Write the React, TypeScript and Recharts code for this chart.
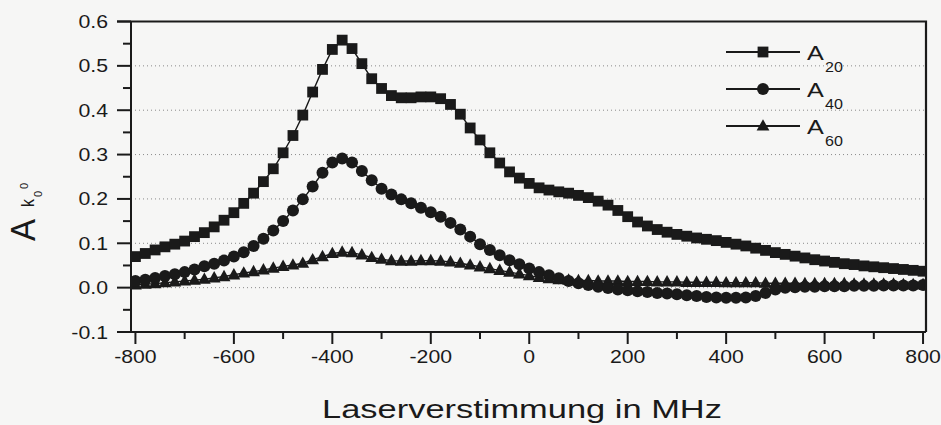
import React from 'react';
import { LineChart, Line, XAxis, YAxis, ReferenceLine, Legend } from 'recharts';

// ---- data ----
const detuning = [
  -800, -780, -760, -740, -720, -700, -680, -660, -640, -620,
  -600, -580, -560, -540, -520, -500, -480, -460, -440, -420,
  -400, -380, -360, -340, -320, -300, -280, -260, -240, -220,
  -200, -180, -160, -140, -120, -100, -80, -60, -40, -20,
  0, 20, 40, 60, 80, 100, 120, 140, 160, 180,
  200, 220, 240, 260, 280, 300, 320, 340, 360, 380,
  400, 420, 440, 460, 480, 500, 520, 540, 560, 580,
  600, 620, 640, 660, 680, 700, 720, 740, 760, 780, 800,
];

const a20 = [
  0.070, 0.077, 0.085, 0.092, 0.098, 0.105, 0.115, 0.124, 0.137, 0.152,
  0.169, 0.190, 0.213, 0.239, 0.268, 0.304, 0.343, 0.389, 0.441, 0.492,
  0.537, 0.558, 0.539, 0.505, 0.471, 0.449, 0.433, 0.428, 0.428, 0.430,
  0.430, 0.426, 0.413, 0.391, 0.360, 0.333, 0.304, 0.281, 0.261, 0.247,
  0.235, 0.225, 0.220, 0.216, 0.213, 0.208, 0.203, 0.195, 0.186, 0.174,
  0.160, 0.148, 0.139, 0.131, 0.125, 0.120, 0.116, 0.112, 0.109, 0.106,
  0.102, 0.098, 0.094, 0.089, 0.084, 0.079, 0.075, 0.071, 0.067, 0.063,
  0.060, 0.057, 0.054, 0.052, 0.049, 0.047, 0.045, 0.043, 0.041, 0.039, 0.037,
];

const a40 = [
  0.015, 0.018, 0.022, 0.026, 0.030, 0.035, 0.041, 0.048, 0.054, 0.061,
  0.070, 0.080, 0.094, 0.110, 0.129, 0.150, 0.174, 0.199, 0.228, 0.259,
  0.282, 0.291, 0.282, 0.263, 0.242, 0.223, 0.210, 0.199, 0.190, 0.180,
  0.170, 0.160, 0.146, 0.131, 0.115, 0.098, 0.085, 0.073, 0.062, 0.053,
  0.043, 0.035, 0.028, 0.021, 0.015, 0.010, 0.006, 0.002, -0.001, -0.004,
  -0.006, -0.008, -0.010, -0.012, -0.013, -0.015, -0.017, -0.019, -0.021, -0.022,
  -0.023, -0.023, -0.022, -0.019, -0.012, -0.004, 0.000, 0.001, 0.002, 0.002,
  0.003, 0.003, 0.003, 0.004, 0.004, 0.004, 0.005, 0.005, 0.005, 0.005, 0.006,
];

const a60 = [
  0.006, 0.008, 0.009, 0.011, 0.013, 0.015, 0.017, 0.019, 0.022, 0.025,
  0.029, 0.033, 0.036, 0.040, 0.044, 0.048, 0.051, 0.055, 0.063, 0.070,
  0.077, 0.080, 0.079, 0.074, 0.068, 0.064, 0.061, 0.060, 0.060, 0.061,
  0.061, 0.060, 0.058, 0.055, 0.051, 0.047, 0.043, 0.039, 0.035, 0.031,
  0.027, 0.023, 0.020, 0.018, 0.017, 0.016, 0.016, 0.015, 0.015, 0.015,
  0.014, 0.014, 0.014, 0.013, 0.013, 0.013, 0.012, 0.012, 0.012, 0.012,
  0.011, 0.011, 0.011, 0.011, 0.010, 0.010, 0.010, 0.010, 0.009, 0.009,
  0.009, 0.009, 0.009, 0.008, 0.008, 0.008, 0.008, 0.008, 0.007, 0.007, 0.007,
];

const xTicks = [-800, -700, -600, -500, -400, -300, -200, -100, 0, 100, 200, 300, 400, 500, 600, 700, 800];
const yTicks = [-0.1, -0.05, 0, 0.05, 0.1, 0.15, 0.2, 0.25, 0.3, 0.35, 0.4, 0.45, 0.5, 0.55, 0.6];
const gridValues = [0, 0.1, 0.2, 0.3, 0.4, 0.5];
const xDomain = [-809, 806];
const yDomain = [-0.1, 0.6];

const seriesKeys = ['a20', 'a40', 'a60'];
const seriesSubs = ['20', '40', '60'];
const seriesShapes = ['square', 'circle', 'triangle'];

const xTitle = 'Laserverstimmung in MHz';

const data = detuning.map((x, i) => ({ x, a20: a20[i], a40: a40[i], a60: a60[i] }));

// ---- layout & styling ----
const CHART_W = 941;
const CHART_H = 425;
const M_TOP = 21.5;
const M_RIGHT = 15;
const Y_AXIS_W = 131;
const X_AXIS_H = 93;
const PLOT_LEFT = Y_AXIS_W;
const PLOT_RIGHT = CHART_W - M_RIGHT;
const PLOT_TOP = M_TOP;
const PLOT_BOTTOM = CHART_H - X_AXIS_H;

const INK = '#1a1a1a';
const BG = '#f6f6f5';
const FONT = '"Liberation Sans", Arial, Helvetica, sans-serif';

function Marker({ shape, cx, cy }: { shape: string; cx: number; cy: number }) {
  if (shape === 'square') {
    return <rect x={cx - 5.4} y={cy - 5.4} width={10.8} height={10.8} fill={INK} />;
  }
  if (shape === 'circle') {
    return <circle cx={cx} cy={cy} r={6} fill={INK} />;
  }
  return (
    <polygon
      points={`${cx},${cy - 6.8} ${cx - 6.4},${cy + 4.6} ${cx + 6.4},${cy + 4.6}`}
      fill={INK}
    />
  );
}

const makeDot = (shape: string) => (p: any) => {
  const { cx, cy, index } = p;
  if (cx == null || cy == null || isNaN(cx) || isNaN(cy)) return <g key={`e-${index}`} />;
  return (
    <g key={`${shape}-${index}`}>
      <Marker shape={shape} cx={cx} cy={cy} />
    </g>
  );
};

const XTick = (props: any) => {
  const { x, y, payload } = props;
  const v = payload.value;
  const major = Math.round(v) % 200 === 0;
  return (
    <g>
      <line x1={x} x2={x} y1={y} y2={y + (major ? 12 : 7)} stroke={INK} strokeWidth={2} />
      {major && (
        <text
          transform={`translate(${x},${y + 31}) scale(1.18,1)`}
          textAnchor="middle"
          fontSize={18}
          fill={INK}
          fontFamily={FONT}
        >
          {String(v)}
        </text>
      )}
    </g>
  );
};

const YTick = (props: any) => {
  const { x, y, payload } = props;
  const v = payload.value;
  const major = Math.round(v * 20) % 2 === 0;
  return (
    <g>
      <line x1={x - (major ? 14 : 8)} x2={x} y1={y} y2={y} stroke={INK} strokeWidth={2} />
      {major && (
        <text
          transform={`translate(${x - 23},${y + 6.5}) scale(1.15,1)`}
          textAnchor="end"
          fontSize={18.5}
          fill={INK}
          fontFamily={FONT}
        >
          {v.toFixed(1)}
        </text>
      )}
    </g>
  );
};

const XTitle = () => (
  <text
    transform="translate(522,418) scale(1.3,1)"
    textAnchor="middle"
    fontSize={26.5}
    fill={INK}
    fontFamily={FONT}
  >
    {xTitle}
  </text>
);

const YTitle = () => (
  <g fill={INK} fontFamily={FONT}>
    <text transform="translate(35,241) scale(1.05,1) rotate(-90)" fontSize={33}>A</text>
    <text transform="translate(34,207) scale(1.15,1) rotate(-90)" fontSize={16}>k</text>
    <text transform="translate(28,189) rotate(-90)" fontSize={11}>0</text>
    <text transform="translate(42,197) rotate(-90)" fontSize={11}>0</text>
  </g>
);

const LegendContent = () => (
  <svg width={150} height={115} style={{ display: 'block', overflow: 'visible' }}>
    {seriesKeys.map((k, i) => {
      const cy = 22 + i * 37;
      return (
        <g key={k}>
          <line x1={6} x2={80} y1={cy} y2={cy} stroke={INK} strokeWidth={2} />
          <Marker shape={seriesShapes[i]} cx={43} cy={cy} />
          <text
            transform={`translate(87,${cy + 8}) scale(1.2,1)`}
            fontSize={21}
            fill={INK}
            fontFamily={FONT}
          >
            A
          </text>
          <text
            transform={`translate(105,${cy + 19.5}) scale(1.15,1)`}
            fontSize={14}
            fill={INK}
            fontFamily={FONT}
          >
            {seriesSubs[i]}
          </text>
        </g>
      );
    })}
  </svg>
);

export default function App() {
  return (
    <div style={{ position: 'absolute', left: 0, top: 0, width: CHART_W, height: CHART_H, background: BG }}>
      <LineChart
        width={CHART_W}
        height={CHART_H}
        data={data}
        margin={{ top: M_TOP, right: M_RIGHT, bottom: 0, left: 0 }}
      >
        <XAxis
          dataKey="x"
          type="number"
          domain={xDomain}
          ticks={xTicks}
          interval={0}
          tick={<XTick />}
          tickLine={false}
          tickSize={0}
          tickMargin={0}
          height={X_AXIS_H}
          axisLine={{ stroke: INK, strokeWidth: 2 }}
          allowDataOverflow
          label={{ content: XTitle }}
        />
        <YAxis
          type="number"
          domain={yDomain}
          ticks={yTicks}
          interval={0}
          tick={<YTick />}
          tickLine={false}
          tickSize={0}
          tickMargin={0}
          width={Y_AXIS_W}
          axisLine={{ stroke: INK, strokeWidth: 2 }}
          allowDataOverflow
          label={{ content: YTitle }}
        />
        {gridValues.map((v) => (
          <ReferenceLine key={`g${v}`} y={v} stroke="#8a8a8a" strokeDasharray="1 3" strokeWidth={1} />
        ))}
        <Legend
          layout="horizontal"
          verticalAlign="middle"
          align="center"
          content={LegendContent}
          wrapperStyle={{ left: 720, top: 30, width: 150, height: 115 }}
        />
        <Line
          dataKey="a60"
          name="A60"
          type="linear"
          stroke={INK}
          strokeWidth={1.4}
          dot={makeDot('triangle')}
          activeDot={false}
          isAnimationActive={false}
        />
        <Line
          dataKey="a40"
          name="A40"
          type="linear"
          stroke={INK}
          strokeWidth={1.4}
          dot={makeDot('circle')}
          activeDot={false}
          isAnimationActive={false}
        />
        <Line
          dataKey="a20"
          name="A20"
          type="linear"
          stroke={INK}
          strokeWidth={1.4}
          dot={makeDot('square')}
          activeDot={false}
          isAnimationActive={false}
        />
      </LineChart>
      {/* top and right sides of the plot frame, as an SVG overlay */}
      <svg
        width={CHART_W}
        height={CHART_H}
        style={{ position: 'absolute', left: 0, top: 0, pointerEvents: 'none', zIndex: 5 }}
      >
        <polyline
          points={`${PLOT_LEFT - 14},${PLOT_TOP} ${PLOT_RIGHT},${PLOT_TOP} ${PLOT_RIGHT},${PLOT_BOTTOM}`}
          fill="none"
          stroke={INK}
          strokeWidth={2.2}
        />
      </svg>
    </div>
  );
}
